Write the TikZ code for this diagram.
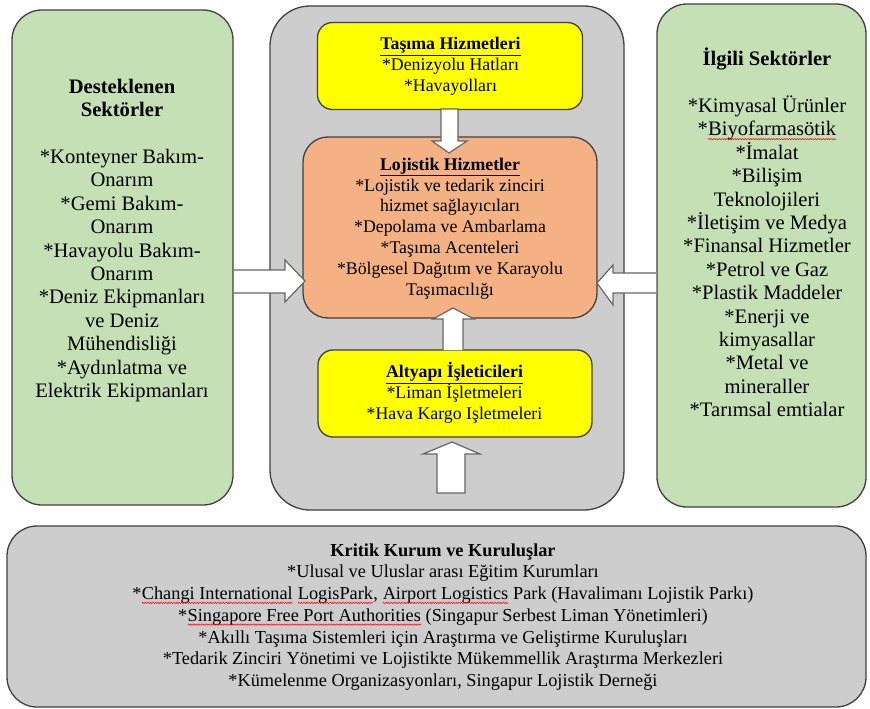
\documentclass[tikz,border=0pt]{standalone}
\usepackage{fontspec}
\usetikzlibrary{decorations.pathmorphing}
\setmainfont{Liberation Serif}
\definecolor{boxgreen}{HTML}{C5E0B4}
\definecolor{boxgray}{HTML}{CDCDCD}
\definecolor{boxyellow}{HTML}{FFFF00}
\definecolor{boxorange}{HTML}{F4B183}
\definecolor{edgegray}{HTML}{404040}
\newcommand\rw[1]{\tikz[baseline=(w.base)]{\node[inner sep=0pt, outer sep=0pt, anchor=base] (w) at (0pt,0pt) {#1};
  \draw[red, line width=0.5pt, decorate, decoration={snake, amplitude=0.7pt, segment length=2.6pt}] ([yshift=-3.2pt]w.base west) -- ([yshift=-3.2pt]w.base east);}}
\begin{document}
\begin{tikzpicture}[x=1pt,y=-1pt,
  panel/.style={draw=edgegray, line width=1.3pt, inner sep=0pt},
  sidetext/.style={align=center, inner sep=0pt, font=\fontsize{20.6}{23.4}\selectfont},
  midtext/.style={align=center, inner sep=0pt, font=\fontsize{17.8}{20.8}\selectfont},
  bottext/.style={align=center, inner sep=0pt, font=\fontsize{18.3}{21.7}\selectfont},
  blockarrow/.style={draw=edgegray!80, fill=white, line width=1.2pt, line join=miter}]
\useasboundingbox (0,0) rectangle (870,709);

% panels
\node[panel, fill=boxgreen, rounded corners=30pt, minimum width=221pt, minimum height=495pt] (left) at (122.5,257.5) {};
\node[panel, fill=boxgray, rounded corners=40pt, minimum width=354pt, minimum height=504pt] (center) at (447,258) {};
\node[panel, fill=boxgreen, rounded corners=30pt, minimum width=209pt, minimum height=503pt] (right) at (761.5,255.5) {};
\node[panel, fill=boxgray, rounded corners=30pt, minimum width=859pt, minimum height=181pt] (bottom) at (436.5,616.5) {};
\node[panel, fill=boxyellow, rounded corners=15pt, minimum width=265pt, minimum height=87pt] (tasima) at (450,66) {};
\node[panel, fill=boxorange, rounded corners=25pt, minimum width=294pt, minimum height=181pt] (lojistik) at (450,227.5) {};
\node[panel, fill=boxyellow, rounded corners=15pt, minimum width=274pt, minimum height=87pt] (altyapi) at (455,393.5) {};

% block arrows
\draw[blockarrow] (441,109) -- (458,109) -- (458,141) -- (467,141) -- (449,153) -- (432,141) -- (441,141) -- cycle;
\draw[blockarrow] (443,350) -- (443,319) -- (433,319) -- (453,308) -- (474,319) -- (463,319) -- (463,350);
\draw[blockarrow] (437,493) -- (437,454) -- (423,454) -- (452,442) -- (480,454) -- (465,454) -- (465,493) -- cycle;
\draw[blockarrow] (234,270) -- (285,270) -- (285,260) -- (305,281) -- (285,302) -- (285,293) -- (234,293);
\draw[blockarrow] (656,273) -- (613,273) -- (613,265) -- (597,283) -- (613,305) -- (613,293) -- (656,293);

% texts
\node[sidetext] (lefttext) at (122,240.5) {\textbf{Desteklenen}\\\textbf{Sektörler}\\[23.4pt]
*Konteyner Bakım-\\Onarım\\*Gemi Bakım-\\Onarım\\*Havayolu Bakım-\\Onarım\\*Deniz Ekipmanları\\ve Deniz\\Mühendisliği\\*Aydınlatma ve\\Elektrik Ekipmanları};

\node[sidetext] (righttext) at (767,232.5) {\textbf{İlgili Sektörler}\\[23.4pt]
*Kimyasal Ürünler\\*\rw{Biyofarmasötik}\\*İmalat\\*Bilişim\\Teknolojileri\\*İletişim ve Medya\\*Finansal Hizmetler\\*Petrol ve Gaz\\*Plastik Maddeler\\*Enerji ve\\kimyasallar\\*Metal ve\\mineraller\\*Tarımsal emtialar};

\node[midtext] (tasimatext) at (450.5,66.5) {\textbf{\underline{Taşıma Hizmetleri}}\\*Denizyolu Hatları\\*Havayolları};

\node[midtext] (lojistiktext) at (450,228.5) {\textbf{\underline{Lojistik Hizmetler}}\\*Lojistik ve tedarik zinciri\\hizmet sağlayıcıları\\*Depolama ve Ambarlama\\*Taşıma Acenteleri\\*Bölgesel Dağıtım ve Karayolu\\Taşımacılığı};

\node[midtext] (altyapitext) at (454.5,393) {\textbf{\underline{Altyapı İşleticileri}}\\*Liman İşletmeleri\\*Hava Kargo Işletmeleri};

\node[bottext] (bottomtext) at (443,617) {\textbf{Kritik Kurum ve Kuruluşlar}\\
*Ulusal ve Uluslar arası Eğitim Kurumları\\
*\rw{Changi International} \rw{LogisPark}, \rw{Airport Logistics} Park (Havalimanı Lojistik Parkı)\\
*\rw{Singapore Free Port Authorities} (Singapur Serbest Liman Yönetimleri)\\
*Akıllı Taşıma Sistemleri için Araştırma ve Geliştirme Kuruluşları\\
*Tedarik Zinciri Yönetimi ve Lojistikte Mükemmellik Araştırma Merkezleri\\
*Kümelenme Organizasyonları, Singapur Lojistik Derneği};
\end{tikzpicture}
\end{document}
